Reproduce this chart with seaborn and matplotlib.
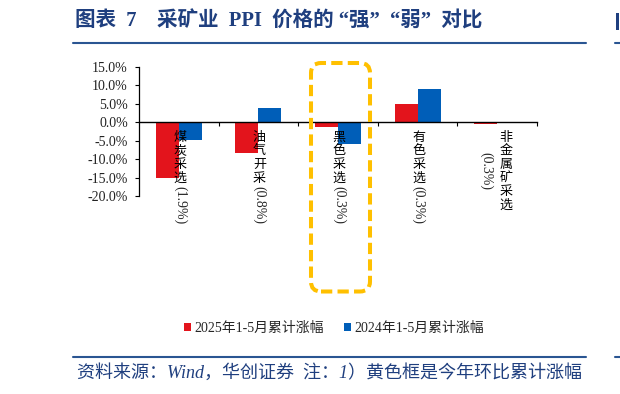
import numpy as np
import pandas as pd
import matplotlib
matplotlib.use("Agg")
import matplotlib.pyplot as plt
import seaborn as sns
from matplotlib.patches import FancyBboxPatch, Rectangle
from matplotlib.lines import Line2D

# ---------------- data ----------------
categories_cjk = ["煤炭采选", "油气开采", "黑色采选", "有色采选", "非金属矿采选"]
weights = ["(1.9%)", "(0.8%)", "(0.3%)", "(0.3%)", "(0.3%)"]
series = ["2025年1-5月累计涨幅", "2024年1-5月累计涨幅"]
vals_2025 = [-15.1, -8.4, -1.3, 4.9, -0.6]
vals_2024 = [-4.7, 4.0, -5.9, 8.9, -0.2]
y_ticks = [15, 10, 5, 0, -5, -10, -15, -20]
title = "图表  7    采矿业  PPI  价格的 “强”  “弱”  对比"
footer = "资料来源：Wind，华创证券  注：1）黄色框是今年环比累计涨幅"

colors = ["#E3141C", "#005EB8"]
navy = "#1F3F7F"
line_navy = "#2A5592"

sns.set_style("white")
plt.rcParams["font.family"] = ["Noto Sans CJK SC", "DejaVu Sans"]
SERIF_CJK = ["Liberation Serif", "Noto Sans CJK SC"]

W, H = 620, 394
fig = plt.figure(figsize=(W / 100, H / 100), dpi=100)
ax = fig.add_axes([139 / W, 1 - 196 / H, (537 - 139) / W, (196 - 67) / H])

cat_names = [c + w for c, w in zip(categories_cjk, weights)]
df = pd.DataFrame({
    "cat": cat_names * 2,
    "val": vals_2025 + vals_2024,
    "series": [series[0]] * len(cat_names) + [series[1]] * len(cat_names),
})

sns.barplot(data=df, x="cat", y="val", hue="series", hue_order=series,
            palette=colors, saturation=1, width=0.58, linewidth=0, ax=ax)

ax.set_xlim(-0.5, 4.5)
ax.set_ylim(-20, 15)
ax.set_xlabel("")
ax.set_ylabel("")
ax.set_yticks(y_ticks)
ax.set_yticklabels([f"{v:.1f}%" for v in y_ticks], fontfamily="Liberation Serif",
                   fontsize=10, color="#222222")
ax.set_xticks([])
ax.set_xticks(np.arange(0.5, 5, 1), minor=True)
ax.tick_params(axis="x", which="minor", bottom=True, length=3, width=0.8,
               direction="out", color="black")
ax.tick_params(axis="y", left=True, length=3, width=0.8, direction="out",
               color="black", pad=5)
for s in ["top", "right"]:
    ax.spines[s].set_visible(False)
ax.spines["bottom"].set_position(("data", 0))
ax.spines["bottom"].set_color("black")
ax.spines["bottom"].set_linewidth(1.0)
ax.spines["left"].set_color("black")
ax.spines["left"].set_linewidth(0.9)

# ---------- category labels (vertical, CJK upright) ----------
pitch = 13.7
col_top = 8.0
k = 0.72
for i, (name, w) in enumerate(zip(categories_cjk, weights)):
    n = len(name)
    if n > 4:
        xo_c, xo_w = 8.7, -11.3
    else:
        xo_c, xo_w = 1.0, 1.0
    for j, ch in enumerate(name):
        ax.annotate(ch, xy=(i, 0), xytext=(xo_c * k, -(col_top + pitch * (j + 0.5)) * k),
                    textcoords="offset points", ha="center", va="center",
                    fontsize=9.4, color="black", annotation_clip=False)
    if n > 4:
        mid = col_top + pitch * n / 2
        ax.annotate(w, xy=(i, 0), xytext=(xo_w * k, -mid * k),
                    textcoords="offset points", ha="center", va="center",
                    rotation=-90, fontsize=10, fontfamily="Liberation Serif",
                    annotation_clip=False)
    else:
        ax.annotate(w, xy=(i, 0), xytext=(xo_w * k, -(col_top + pitch * n + 0.5) * k),
                    textcoords="offset points", ha="center", va="top",
                    rotation=-90, fontsize=10, fontfamily="Liberation Serif",
                    annotation_clip=False)

# ---------- legend ----------
handles, labels = ax.get_legend_handles_labels()
if ax.get_legend() is not None:
    ax.get_legend().remove()
fig.legend(handles, labels, loc="center", bbox_to_anchor=(334 / W, 1 - 328 / H),
           ncol=2, frameon=False, handlelength=0.5, handleheight=0.5,
           handletextpad=0.25, columnspacing=1.5,
           prop={"family": SERIF_CJK, "size": 10})

# ---------- title, rules, footer ----------
fig.text(75 / W, 1 - 21 / H, title, fontsize=14.8, fontweight="bold", color=navy,
         ha="left", va="center", family=SERIF_CJK)
# fragment of the neighbouring chart at the right edge
fig.add_artist(Rectangle((616 / W, 1 - 30 / H), 2.5 / W, 17 / H,
                         transform=fig.transFigure, color=navy, lw=0))
for yy in (42.7, 356.7):
    fig.add_artist(Line2D([73.3 / W, 586 / W], [1 - yy / H] * 2, transform=fig.transFigure,
                          color=line_navy, lw=1.5))
    fig.add_artist(Line2D([615 / W, 1.0], [1 - yy / H] * 2, transform=fig.transFigure,
                          color=line_navy, lw=1.5))
fig.text(76.7 / W, 1 - 373 / H, footer, fontsize=13, style="italic", color=navy,
         ha="left", va="center", family=SERIF_CJK)

# ---------- yellow dashed highlight box ----------
box = FancyBboxPatch((3.11, (H - 291.5) / 100), 0.59, (291.5 - 63) / 100,
                     boxstyle="round,pad=0,rounding_size=0.1",
                     transform=fig.dpi_scale_trans, fill=False,
                     edgecolor="#FFC000", lw=2.9, linestyle=(0, (2.8, 1.3)))
fig.add_artist(box)

fig.savefig("out.png", dpi=100)
